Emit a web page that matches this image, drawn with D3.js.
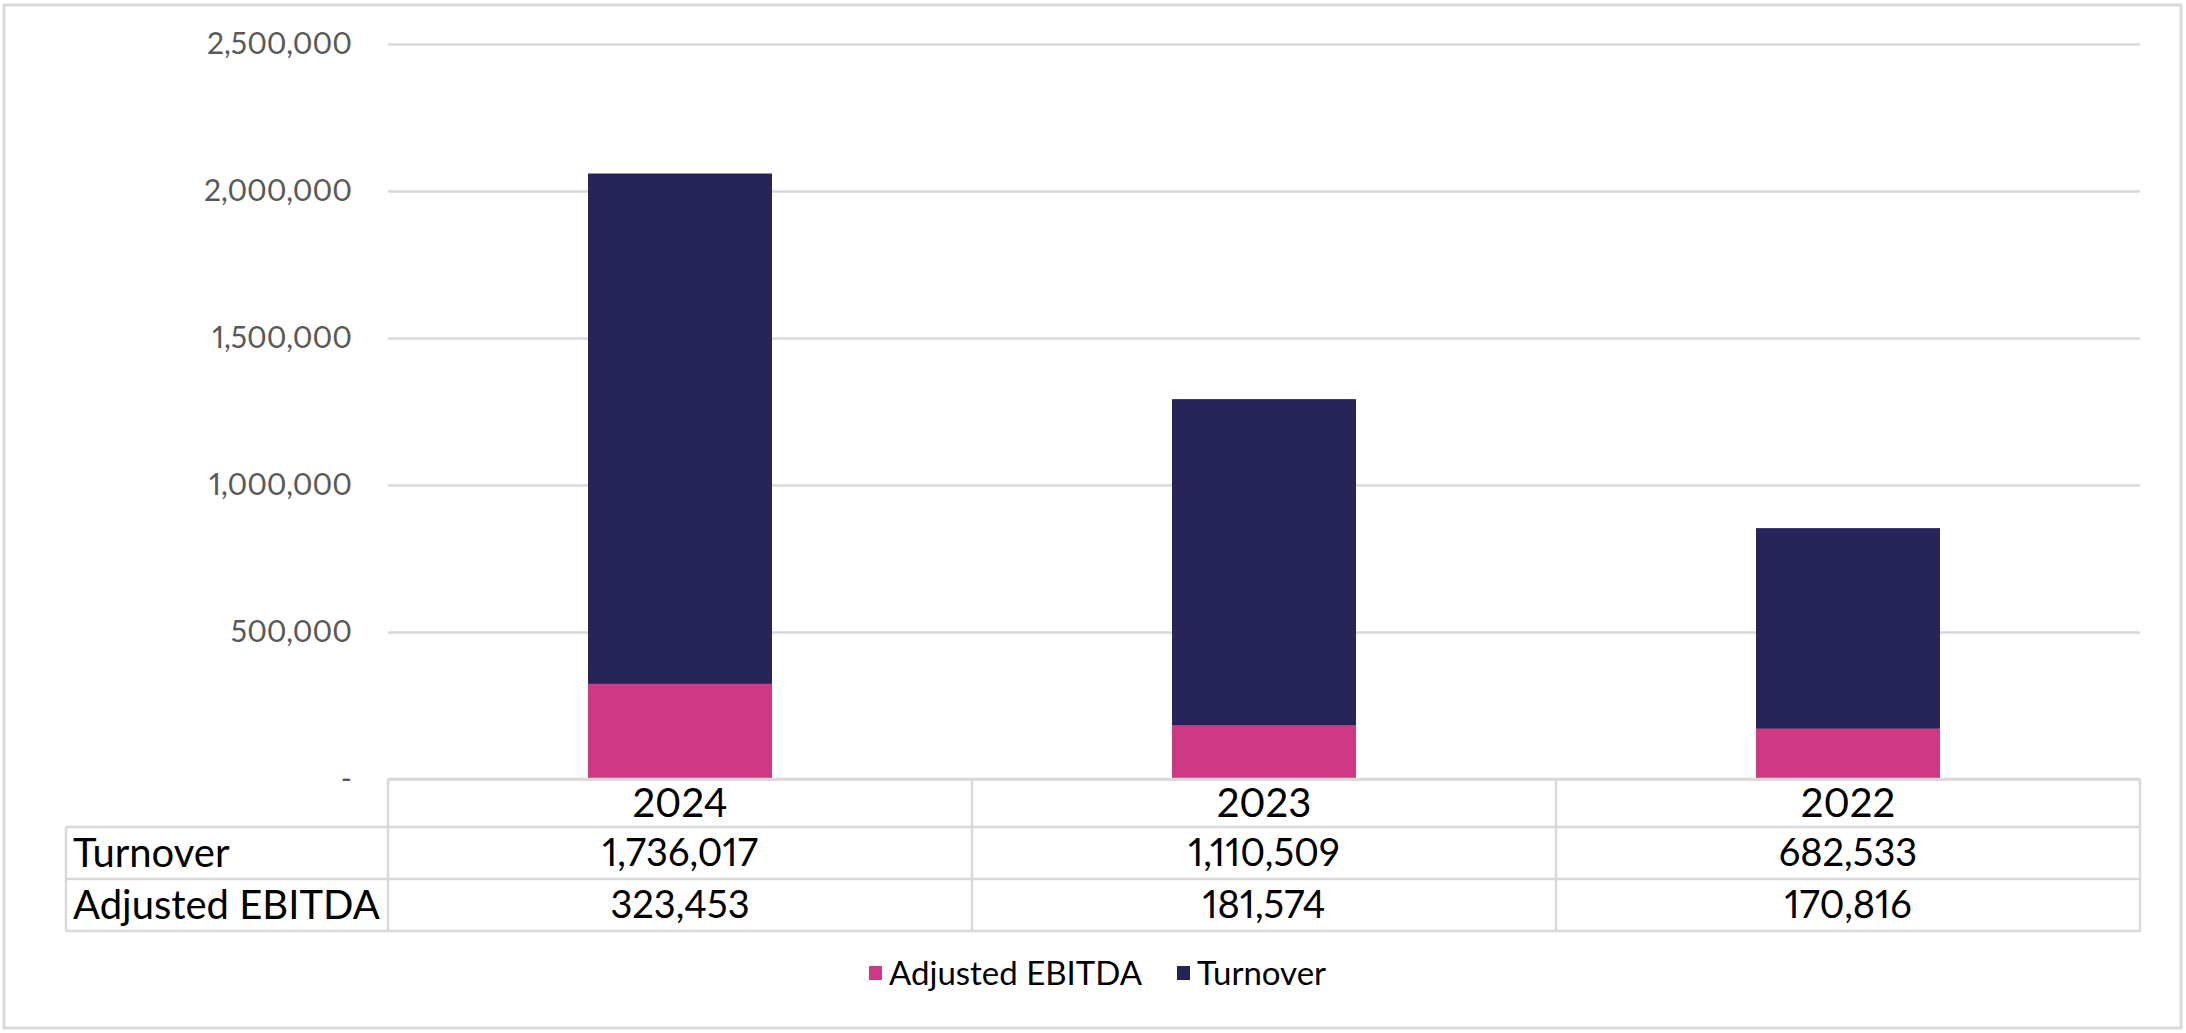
<!DOCTYPE html>
<html>
<head>
<meta charset="utf-8">
<script src="https://cdn.jsdelivr.net/npm/d3@7"></script>
<style>
  body { margin: 0; background: #fff; }
  text { font-family: Lato, "Open Sans", sans-serif; font-variant-numeric: proportional-nums; }
</style>
</head>
<body>
<svg id="chart"></svg>
<script>
// values
var years = ['2024', '2023', '2022'];
var turnover = [1736017, 1110509, 682533];
var ebitda = [323453, 181574, 170816];
var yTicks = [0, 500000, 1000000, 1500000, 2000000, 2500000];
var seriesNames = ['Adjusted EBITDA', 'Turnover'];
var seriesColors = ['#CE3884', '#262358'];

var W = 2186, H = 1033;
var plotLeft = 388, plotRight = 2140, plotTop = 44, zeroY = 779;
var rowH = [48, 52, 52];

var svg = d3.select('#chart').attr('width', W).attr('height', H);

// outer frame
svg.append('rect')
  .attr('x', 4).attr('y', 5).attr('width', W - 9).attr('height', H - 10)
  .attr('fill', 'none').attr('stroke', '#D9D9D9').attr('stroke-width', 3);

var x = d3.scaleBand().domain(years).range([plotLeft, plotRight]).padding(0);
var y = d3.scaleLinear().domain([0, 2500000]).range([zeroY, plotTop]);

// gridlines + y labels
var yAxis = d3.axisLeft(y)
  .tickValues(yTicks)
  .tickSize(-(plotRight - plotLeft))
  .tickPadding(36)
  .tickFormat(function(d){ return d === 0 ? '-' : d3.format(',')(d); });

var gy = svg.append('g').attr('transform', 'translate(' + plotLeft + ',0)').call(yAxis);
gy.select('.domain').remove();
gy.selectAll('.tick line').attr('stroke', '#D9D9D9').attr('stroke-width', 2.5);
gy.selectAll('.tick text')
  .attr('fill', '#595959')
  .style('font-size', '30px');

// stacked bars
var rows = years.map(function(yr, i){
  return { year: yr, 'Adjusted EBITDA': ebitda[i], 'Turnover': turnover[i] };
});
var stacked = d3.stack().keys(seriesNames)(rows);
var barW = x.bandwidth() * 0.315;

svg.selectAll('g.series')
  .data(stacked)
  .enter().append('g')
  .attr('class', 'series')
  .attr('fill', function(d, i){ return seriesColors[i]; })
  .selectAll('rect')
  .data(function(d){ return d; })
  .enter().append('rect')
  .attr('x', function(d){ return x(d.data.year) + (x.bandwidth() - barW) / 2; })
  .attr('width', barW)
  .attr('y', function(d){ return y(d[1]); })
  .attr('height', function(d){ return y(d[0]) - y(d[1]); });

// data table under the plot
var tableLeft = 66;
var r0 = zeroY, r1 = r0 + rowH[0], r2 = r1 + rowH[1], r3 = r2 + rowH[2];
var line = function(x1, y1, x2, y2){
  svg.append('line')
    .attr('x1', x1).attr('y1', y1).attr('x2', x2).attr('y2', y2)
    .attr('stroke', '#D9D9D9').attr('stroke-width', 2.5);
};
line(plotLeft, r0, plotRight, r0);
line(tableLeft, r1, plotRight, r1);
line(tableLeft, r2, plotRight, r2);
line(tableLeft, r3, plotRight, r3);
line(tableLeft, r1, tableLeft, r3);
years.forEach(function(yr){ line(x(yr), r0, x(yr), r3); });
line(plotRight, r0, plotRight, r3);

var cellFont = '40px';
svg.selectAll('text.yr')
  .data(years).enter().append('text')
  .attr('class', 'yr')
  .attr('x', function(d){ return x(d) + x.bandwidth() / 2; })
  .attr('y', (r0 + r1) / 2)
  .attr('dy', '0.35em')
  .attr('text-anchor', 'middle')
  .style('font-size', cellFont)
  .text(function(d){ return d; });

var tableRows = [
  { name: 'Turnover', values: turnover, y: (r1 + r2) / 2 },
  { name: 'Adjusted EBITDA', values: ebitda, y: (r2 + r3) / 2 }
];
tableRows.forEach(function(row){
  svg.append('text')
    .attr('x', tableLeft + 7).attr('y', row.y).attr('dy', '0.35em')
    .style('font-size', cellFont)
    .text(row.name);
  svg.selectAll(null)
    .data(row.values).enter().append('text')
    .attr('x', function(d, i){ return x(years[i]) + x.bandwidth() / 2; })
    .attr('y', row.y).attr('dy', '0.35em')
    .attr('text-anchor', 'middle')
    .style('font-size', '38px')
    .text(function(d){ return d3.format(',')(d); });
});

// legend
var legendX = [869, 1177];
var legendY = 973;
var lg = svg.selectAll('g.legend')
  .data(seriesNames).enter().append('g')
  .attr('class', 'legend')
  .attr('transform', function(d, i){ return 'translate(' + legendX[i] + ',' + legendY + ')'; });
lg.append('rect')
  .attr('x', 0).attr('y', -7).attr('width', 13).attr('height', 14)
  .attr('fill', function(d, i){ return seriesColors[i]; });
lg.append('text')
  .attr('x', 20).attr('dy', '0.35em')
  .attr('fill', '#000')
  .style('font-size', '33px')
  .text(function(d){ return d; });
</script>
</body>
</html>
